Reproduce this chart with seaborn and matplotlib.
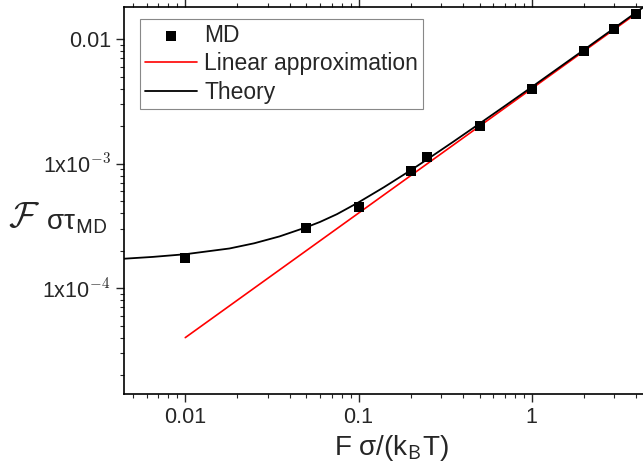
import matplotlib
matplotlib.use("Agg")
import matplotlib.pyplot as plt
import seaborn as sns
import pandas as pd
from matplotlib.ticker import LogLocator, NullFormatter

# ---- data ----
md_x = [0.01, 0.05, 0.1, 0.2, 0.25, 0.5, 1, 2, 3, 4]
md_y = [1.74e-4, 3.03e-4, 4.50e-4, 8.65e-4, 1.13e-3, 2.0e-3, 4.0e-3, 8.0e-3, 1.20e-2, 1.60e-2]

lin_x = [0.01, 4.0]
lin_y = [4.0e-5, 1.6e-2]

theory_x = [0.0044, 0.0065, 0.01, 0.018, 0.025, 0.035, 0.05, 0.06, 0.075, 0.1,
            0.14, 0.2, 0.25, 0.35, 0.5, 0.7, 1.0, 1.4, 2.0, 3.0, 4.0, 4.5]
theory_y = [1.72e-4, 1.78e-4, 1.87e-4, 2.08e-4, 2.29e-4, 2.60e-4, 3.08e-4, 3.40e-4,
            3.92e-4, 4.88e-4, 6.45e-4, 8.83e-4, 1.084e-3, 1.488e-3, 2.096e-3, 2.905e-3,
            4.12e-3, 5.75e-3, 8.19e-3, 1.228e-2, 1.637e-2, 1.84e-2]

x_ticks = [0.01, 0.1, 1]
x_tick_labels = ["0.01", "0.1", "1"]
y_ticks = [1e-4, 1e-3, 1e-2]
y_tick_labels = [r"1x10$^{\mathsf{-4}}$", r"1x10$^{\mathsf{-3}}$", "0.01"]

sns.set_style("ticks")
plt.rcParams["font.family"] = ["Liberation Sans", "DejaVu Sans"]
plt.rcParams["mathtext.fontset"] = "cm"

W, H = 643, 463
fig = plt.figure(figsize=(W / 100, H / 100), dpi=100)
ax = fig.add_axes([124 / W, 1 - 394 / H, 1.003 - 124 / W, (394 - 7) / H])

df_md = pd.DataFrame({"x": md_x, "y": md_y})
df_lin = pd.DataFrame({"x": lin_x, "y": lin_y})
df_th = pd.DataFrame({"x": theory_x, "y": theory_y})

ax.set_xscale("log")
ax.set_yscale("log")

sns.lineplot(data=df_lin, x="x", y="y", ax=ax, color="#ff0000", lw=1.2,
             label="Linear approximation", zorder=2)
sns.lineplot(data=df_th, x="x", y="y", ax=ax, color="black", lw=1.3,
             label="Theory", zorder=3)
sns.scatterplot(data=df_md, x="x", y="y", ax=ax, marker="s", s=50, color="black",
                edgecolor="black", linewidth=0, label="MD", zorder=4)

ax.set_xlim(0.00443, 4.5)
ax.set_ylim(1.41e-5, 0.0181)

ax.set_xticks(x_ticks, x_tick_labels)
ax.set_yticks(y_ticks, y_tick_labels)
ax.xaxis.set_minor_locator(LogLocator(base=10, subs=range(2, 10), numticks=20))
ax.yaxis.set_minor_locator(LogLocator(base=10, subs=range(2, 10), numticks=20))
ax.xaxis.set_minor_formatter(NullFormatter())
ax.yaxis.set_minor_formatter(NullFormatter())

ax.tick_params(axis="both", which="major", direction="out", length=5.5, width=1,
               labelsize=15.5, pad=4, top=True, right=False)
ax.tick_params(axis="both", which="minor", direction="out", length=3, width=0.8,
               top=True, right=False)

for s in ["left", "bottom", "top"]:
    ax.spines[s].set_linewidth(1.2)
    ax.spines[s].set_color("black")
ax.spines["right"].set_visible(False)

ax.set_xlabel(r"F σ/(k$_{\mathsf{B}}$T)", fontsize=20)
ax.xaxis.set_label_coords(0.514, -0.1)

# y label: calligraphic F (larger) followed by σ τ_MD, horizontal
ax.set_ylabel("")
fig.text(24 / W, 1 - 218 / H, r"$\mathcal{F}$", fontsize=26, ha="center", va="center")
fig.text(46 / W, 1 - 229 / H, r"στ$_{\mathsf{MD}}$", fontsize=20, ha="left",
         va="baseline")

handles, labels = ax.get_legend_handles_labels()
order = [labels.index("MD"), labels.index("Linear approximation"), labels.index("Theory")]
leg = ax.legend([handles[i] for i in order], [labels[i] for i in order],
                loc="upper left", bbox_to_anchor=(16 / 519, 1 - 12 / 387),
                fontsize=16.5, frameon=True, fancybox=False, framealpha=1,
                edgecolor="#888888", handlelength=2.3, handletextpad=0.3,
                labelspacing=0.25, borderpad=0.2, borderaxespad=0)
leg.get_frame().set_linewidth(0.8)

fig.savefig("out.png", dpi=100)
